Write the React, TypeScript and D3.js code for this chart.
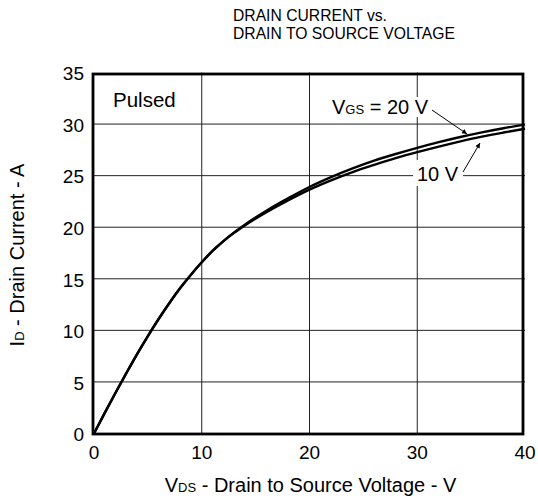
import React from "react";
import * as d3 from "d3";

const vds = [0, 1, 2, 3, 4, 5, 6, 7, 8, 9, 10, 11, 12, 13, 14, 16, 18, 20, 22, 24, 26, 28, 30, 32, 34, 36, 38, 40];
const id20 = [0, 2.0, 3.95, 5.85, 7.7, 9.45, 11.1, 12.65, 14.1, 15.4, 16.6, 17.7, 18.65, 19.5, 20.25, 21.6, 22.8, 23.9, 24.85, 25.7, 26.45, 27.1, 27.7, 28.25, 28.75, 29.2, 29.6, 29.95];
const id10 = [0, 2.0, 3.95, 5.85, 7.7, 9.45, 11.1, 12.65, 14.1, 15.4, 16.6, 17.7, 18.63, 19.45, 20.17, 21.45, 22.6, 23.65, 24.55, 25.35, 26.05, 26.7, 27.28, 27.82, 28.32, 28.78, 29.18, 29.55];
const xTicks = [0, 10, 20, 30, 40];
const yTicks = [0, 5, 10, 15, 20, 25, 30, 35];

const W = 538, H = 499;
const L = 94, R = 525, T = 72.5, B = 433.5;
const FONT = "'Liberation Sans', Arial, sans-serif";

export default function App() {
  const x = d3.scaleLinear().domain([0, 40]).range([L, R]);
  const y = d3.scaleLinear().domain([0, 35]).range([B, T]);
  const line = d3.line<number>().x((_, i) => x(vds[i])).y((d) => y(d)).curve(d3.curveMonotoneX);

  return (
    <svg width={W} height={H} style={{ position: "absolute", left: 0, top: 0 }} fontFamily={FONT}>
      <defs>
        <marker id="ah" viewBox="0 0 10 10" refX="10" refY="5" markerWidth="9" markerHeight="5" orient="auto" markerUnits="userSpaceOnUse">
          <path d="M0,0 L10,5 L0,10 z" fill="black" />
        </marker>
      </defs>
      <rect width={W} height={H} fill="white" />
      {/* grid */}
      {xTicks.slice(1, -1).map((t) => (
        <line key={"gx" + t} x1={x(t)} x2={x(t)} y1={T} y2={B} stroke="#222" strokeWidth={1} />
      ))}
      {yTicks.slice(1, -1).map((t) => (
        <line key={"gy" + t} x1={L} x2={R} y1={y(t)} y2={y(t)} stroke="#222" strokeWidth={1} />
      ))}
      {/* label backgrounds */}
      <rect x={330} y={97} width={100} height={20} fill="white" />
      <rect x={413} y={160} width={50} height={26} fill="white" />
      {/* curves */}
      <path d={line(id10) || ""} fill="none" stroke="black" strokeWidth={2.4} />
      <path d={line(id20) || ""} fill="none" stroke="black" strokeWidth={2.4} />
      {/* frame */}
      <rect x={93} y={74} width={523 - 93} height={434 - 74} fill="none" stroke="black" strokeWidth={2.8} />
      {/* tick labels */}
      {yTicks.map((t) => (
        <text key={"yt" + t} x={84} y={y(t) + 1} dy="0.36em" textAnchor="end" fontSize={19}>{t}</text>
      ))}
      {xTicks.map((t) => (
        <text key={"xt" + t} x={x(t)} y={459} textAnchor="middle" fontSize={19}>{t}</text>
      ))}
      {/* annotations */}
      <text x={113} y={106.5} fontSize={20.5}>Pulsed</text>
      <text x={332} y={114} fontSize={20}>V<tspan fontSize={13}>GS</tspan> = 20 V</text>
      <line x1={432} y1={110} x2={467} y2={134} stroke="black" strokeWidth={1} markerEnd="url(#ah)" />
      <text x={417} y={180.5} fontSize={20}>10 V</text>
      <line x1={463} y1={172} x2={480} y2={143} stroke="black" strokeWidth={1} markerEnd="url(#ah)" />
      {/* title */}
      <text x={233} y={20.5} fontSize={15.7}>DRAIN CURRENT vs.</text>
      <text x={233} y={39.3} fontSize={15.7}>DRAIN TO SOURCE VOLTAGE</text>
      {/* axis labels */}
      <text x={310.5} y={492} textAnchor="middle" fontSize={20}>V<tspan fontSize={13}>DS</tspan> - Drain to Source Voltage - V</text>
      <text transform={`translate(24,${(T + B) / 2 + 2}) rotate(-90)`} textAnchor="middle" fontSize={20}>I<tspan fontSize={13}>D</tspan> - Drain Current - A</text>
    </svg>
  );
}
